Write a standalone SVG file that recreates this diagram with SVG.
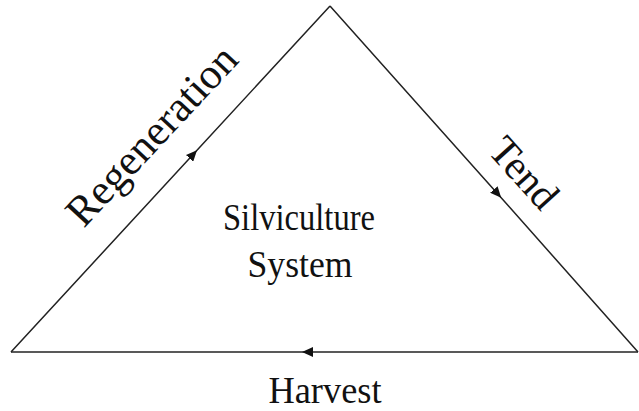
<svg xmlns="http://www.w3.org/2000/svg" width="639" height="411" viewBox="0 0 639 411">
<style>
.side{fill:none;stroke:#222;stroke-width:1.5;marker-mid:url(#ah)}
.lbl{font-family:"Liberation Serif","Times New Roman",serif;fill:#111;text-anchor:middle}
</style>
<defs>
<marker id="ah" viewBox="0 -5 12 10" refX="10" refY="0" markerWidth="12" markerHeight="10" markerUnits="userSpaceOnUse" orient="auto">
<path d="M0,-5 L11,0 L0,5 z" fill="#111"/>
</marker>
</defs>
<rect width="639" height="411" fill="#fff"/>
<g id="connectors">
<path id="edge-regeneration" class="side" d="M11,352 L196.3,151 L330,6"/>
<path id="edge-tend" class="side" d="M330,6 L500.5,197 L638,352"/>
<path id="edge-harvest" class="side" d="M638,352 L303,352 L11,352"/>
</g>
<g id="node-center">
<text class="lbl" x="299" y="230" font-size="37" textLength="152" lengthAdjust="spacingAndGlyphs">Silviculture</text>
<text class="lbl" x="300" y="277" font-size="37" textLength="105" lengthAdjust="spacingAndGlyphs">System</text>
</g>
<g id="label-regeneration">
<text class="lbl" font-size="43" transform="translate(162,145) rotate(-47)">Regeneration</text>
</g>
<g id="label-tend">
<text class="lbl" font-size="41" transform="translate(514,182) rotate(48)">Tend</text>
</g>
<g id="label-harvest">
<text class="lbl" x="325" y="403" font-size="37" textLength="113" lengthAdjust="spacingAndGlyphs">Harvest</text>
</g>
</svg>
